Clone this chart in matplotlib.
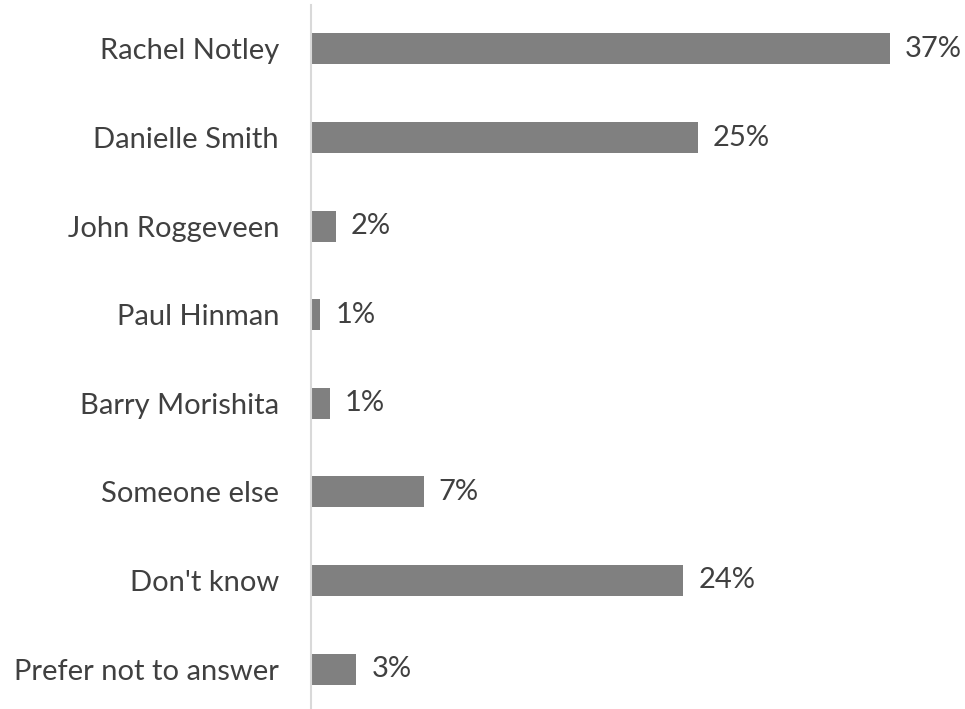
import matplotlib
matplotlib.use('Agg')
import matplotlib.pyplot as plt

categories = ["Rachel Notley", "Danielle Smith", "John Roggeveen", "Paul Hinman",
              "Barry Morishita", "Someone else", "Don't know", "Prefer not to answer"]
values = [37.0, 24.7, 1.6, 0.6, 1.2, 7.2, 23.8, 2.9]

plt.rcParams['font.family'] = ['Lato', 'DejaVu Sans']

W, H = 965, 709
fig = plt.figure(figsize=(W / 100, H / 100), dpi=100)
scale = 15.65  # px per percent
ax_w = 40 * scale
ax = fig.add_axes([311 / W, -4.3 / H, ax_w / W, 708.6 / H])

ypos = list(range(len(categories)))
ax.barh(ypos, values, height=0.35, color='#808080', zorder=2)
ax.set_xlim(0, 40)
ax.set_ylim(len(categories) - 0.5, -0.5)

for y, v in zip(ypos, values):
    ax.text(v + 15 / scale, y, f"{round(v)}%", va='center', ha='left',
            fontsize=21, color='#404040', clip_on=False)

ax.set_yticks(ypos)
ax.set_yticklabels(categories, fontsize=21, color='#404040')
ax.tick_params(axis='y', length=0, pad=23)
ax.set_xticks([])
for s in ['top', 'right', 'bottom']:
    ax.spines[s].set_visible(False)
ax.spines['left'].set_color('#d9d9d9')
ax.spines['left'].set_linewidth(1.5)

fig.savefig('out.png', dpi=100)
